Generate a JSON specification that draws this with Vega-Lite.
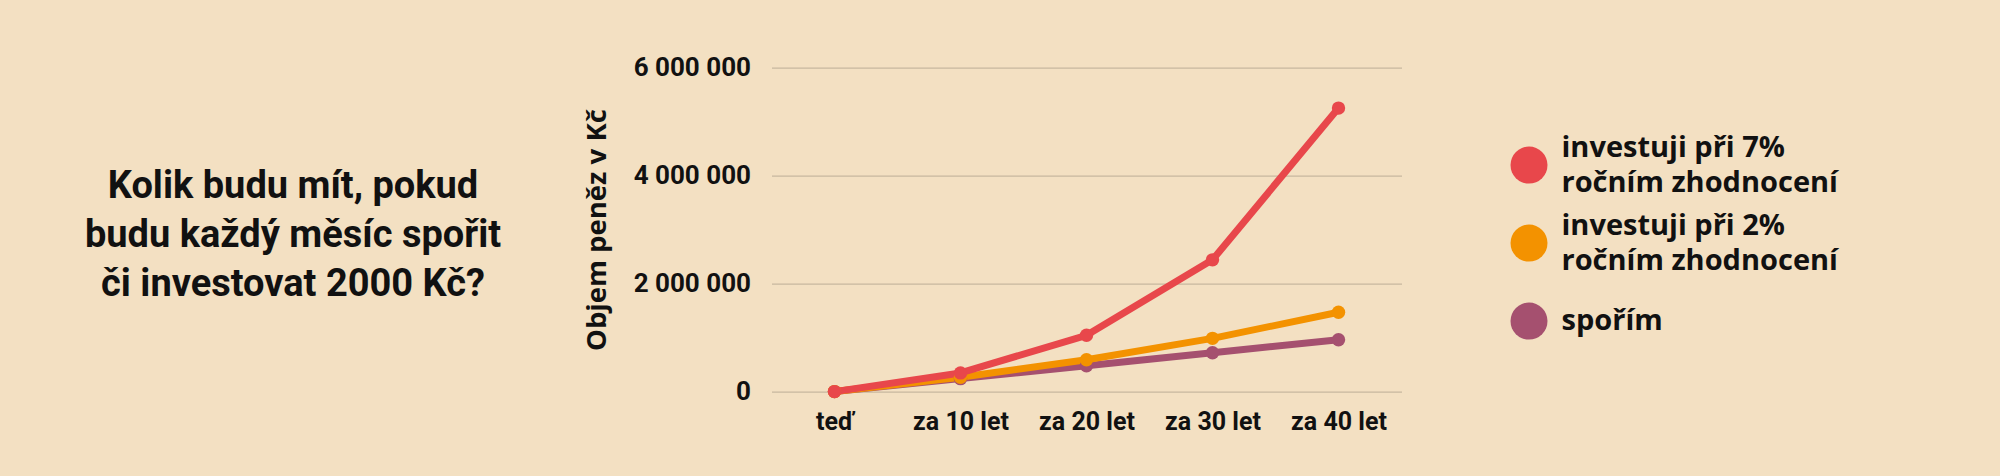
{
  "$schema": "https://vega.github.io/schema/vega-lite/v6.json",
  "width": 630,
  "height": 324,
  "autosize": {"type": "none"},
  "padding": {"left": 771.5, "top": 67.6, "right": 598.5, "bottom": 84.4},
  "background": "#F3E0C2",
  "title": {
    "text": ["Kolik budu mít, pokud", "budu každý měsíc spořit", "či investovat 2000 Kč?"],
    "orient": "left",
    "angle": 0,
    "align": "center",
    "baseline": "middle",
    "anchor": "middle",
    "frame": "group",
    "offset": -126,
    "dy": -43,
    "font": "Roboto",
    "fontSize": 38,
    "fontWeight": "bold",
    "lineHeight": 49,
    "color": "#111111"
  },
  "config": {
    "view": {"stroke": null},
    "locale": {"number": {"decimal": ",", "thousands": " ", "grouping": [3], "currency": ["", " Kč"]}}
  },
  "data": {
    "values": [
      {"obdobi": "teď", "varianta": "spořím", "objem": 0},
      {"obdobi": "za 10 let", "varianta": "spořím", "objem": 240000},
      {"obdobi": "za 20 let", "varianta": "spořím", "objem": 480000},
      {"obdobi": "za 30 let", "varianta": "spořím", "objem": 720000},
      {"obdobi": "za 40 let", "varianta": "spořím", "objem": 960000},
      {"obdobi": "teď", "varianta": "investuji při 2% ročním zhodnocení", "objem": 0},
      {"obdobi": "za 10 let", "varianta": "investuji při 2% ročním zhodnocení", "objem": 265000},
      {"obdobi": "za 20 let", "varianta": "investuji při 2% ročním zhodnocení", "objem": 590000},
      {"obdobi": "za 30 let", "varianta": "investuji při 2% ročním zhodnocení", "objem": 986000},
      {"obdobi": "za 40 let", "varianta": "investuji při 2% ročním zhodnocení", "objem": 1469000},
      {"obdobi": "teď", "varianta": "investuji při 7% ročním zhodnocení", "objem": 0},
      {"obdobi": "za 10 let", "varianta": "investuji při 7% ročním zhodnocení", "objem": 346000},
      {"obdobi": "za 20 let", "varianta": "investuji při 7% ročním zhodnocení", "objem": 1042000},
      {"obdobi": "za 30 let", "varianta": "investuji při 7% ročním zhodnocení", "objem": 2440000},
      {"obdobi": "za 40 let", "varianta": "investuji při 7% ročním zhodnocení", "objem": 5250000}
    ]
  },
  "encoding": {
    "x": {
      "field": "obdobi",
      "type": "ordinal",
      "sort": ["teď", "za 10 let", "za 20 let", "za 30 let", "za 40 let"],
      "scale": {"type": "point", "padding": 0.5},
      "axis": {
        "title": null,
        "labelFont": "Roboto",
        "labelFontSize": 25,
        "labelFontWeight": "bold",
        "labelColor": "#111111",
        "labelPadding": 18,
        "labelAngle": 0,
        "domain": false,
        "ticks": false,
        "grid": false
      }
    },
    "y": {
      "field": "objem",
      "type": "quantitative",
      "scale": {"domain": [0, 6000000]},
      "axis": {
        "values": [0, 2000000, 4000000, 6000000],
        "format": ",d",
        "title": "Objem peněz v Kč",
        "titleFont": "Open Sans",
        "titleFontSize": 27.5,
        "titleFontWeight": "bold",
        "titleColor": "#111111",
        "titlePadding": 22,
        "labelFont": "Roboto",
        "labelFontSize": 26,
        "labelFontWeight": "bold",
        "labelColor": "#111111",
        "labelPadding": 21,
        "domain": false,
        "ticks": false,
        "grid": true,
        "gridColor": "#BCAE98",
        "gridWidth": 1
      }
    },
    "color": {
      "field": "varianta",
      "type": "nominal",
      "scale": {
        "domain": ["investuji při 7% ročním zhodnocení", "investuji při 2% ročním zhodnocení", "spořím"],
        "range": ["#E8474B", "#F39200", "#A5506F"]
      },
      "legend": {
        "title": null,
        "orient": "none",
        "legendX": 739,
        "legendY": 79,
        "symbolType": "circle",
        "symbolSize": 1369,
        "symbolStrokeWidth": 0,
        "symbolOpacity": 1,
        "labelFont": "Open Sans",
        "labelFontSize": 29,
        "labelFontWeight": "bold",
        "labelColor": "#111111",
        "labelOffset": 14,
        "labelLimit": 0,
        "rowPadding": 14,
        "gridAlign": "all",
        "labelExpr": "indexof(datum.label, ' ročním') > 0 ? [substring(datum.label, 0, indexof(datum.label, ' ročním')), 'ročním zhodnocení'] : datum.label",
        "encode": {
          "labels": {"update": {"lineHeight": {"value": 35}, "dy": {"signal": "indexof(datum.label, ' ročním') > 0 ? -17.5 : 0"}}},
          "symbols": {"update": {"fill": {"signal": "scale('color', datum.value)"}, "opacity": {"value": 1}, "strokeWidth": {"value": 0}}}
        }
      }
    }
  },
  "layer": [
    {"mark": {"type": "line", "strokeWidth": 7, "strokeCap": "round", "strokeJoin": "round"}},
    {"mark": {"type": "point", "filled": true, "size": 180, "opacity": 1}}
  ]
}
